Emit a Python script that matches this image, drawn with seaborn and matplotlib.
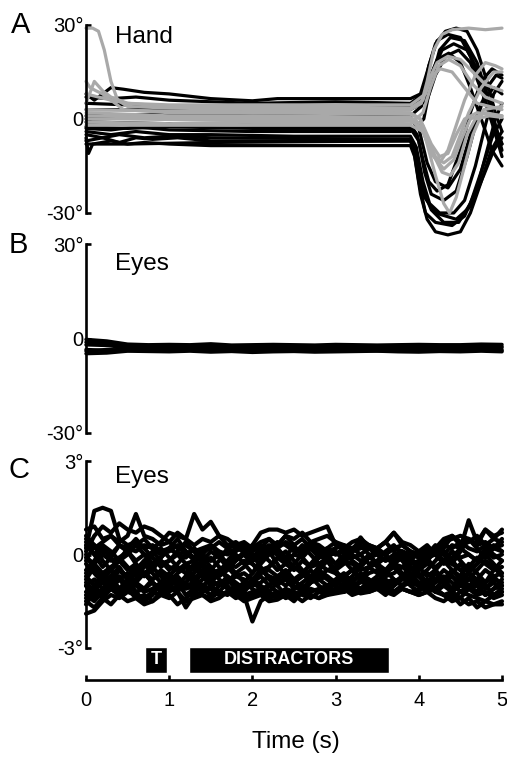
import seaborn as sns
import matplotlib.pyplot as plt
import pandas as pd
import numpy as np

# --------------------------------
# Panel A: hand traces, (time s, angle deg) keypoints
# --------------------------------

hand_black = [
    [(0, -6), (0.03, -11), (0.08, -8), (0.3, -7), (0.5, -8), (0.7, -7.5), (1.0, -8), (1.5, -8.5), (2.0, -8.5),
     (3.0, -8.5), (3.9, -8.5), (3.95, -12), (4.02, -24), (4.1, -32), (4.2, -36), (4.35, -37), (4.5, -36),
     (4.62, -30), (4.75, -20), (4.87, -10), (5.0, -4)],
    [(0, -7), (0.2, -6), (0.4, -7.5), (0.6, -6), (0.8, -6.5), (1.1, -6), (1.5, -7), (2.5, -7), (3.9, -7),
     (3.94, -10), (4.0, -20), (4.08, -30), (4.2, -33), (4.4, -34), (4.55, -31), (4.7, -22), (4.82, -10),
     (4.92, 0), (5.0, 5)],
    [(0, -4), (0.3, -5), (0.6, -4), (1.0, -5), (1.5, -5), (2.5, -5.5), (3.9, -5.5), (3.97, -9), (4.05, -20),
     (4.13, -27), (4.25, -30), (4.42, -30), (4.55, -26), (4.68, -15), (4.8, -2), (4.9, 8), (5.0, 12)],
    [(0, -2.5), (0.5, -3), (1.0, -2.5), (2.0, -3), (3.9, -3), (4.0, -7), (4.07, -17), (4.15, -24), (4.3, -26),
     (4.45, -23), (4.58, -12), (4.7, 0), (4.82, 10), (4.93, 14), (5.0, 13)],
    [(0, -8), (0.5, -8), (1.5, -7.5), (3.9, -7), (3.98, -12), (4.07, -25), (4.2, -30), (4.45, -32),
     (4.62, -28), (4.78, -18), (4.9, -10), (5.0, -6)],
    [(0, -1), (1.0, -1.5), (2.0, -2), (3.9, -2), (3.98, -5), (4.05, -13), (4.12, -20), (4.22, -23),
     (4.35, -21), (4.5, -10), (4.62, 2), (4.75, 12), (4.88, 16), (5.0, 14)],
    [(0, 8), (0.1, 6), (0.2, 8), (0.3, 10), (0.45, 9.5), (0.7, 8.5), (1.0, 8), (1.5, 6.5), (2.0, 5.8),
     (2.3, 6.5), (3.0, 6.5), (3.9, 6.5), (4.02, 8), (4.1, 15), (4.2, 24), (4.32, 28), (4.45, 29), (4.58, 28),
     (4.7, 22), (4.82, 12), (4.92, 2), (5.0, -4)],
    [(0, 7), (0.3, 6.5), (0.6, 7), (1.0, 6), (1.5, 5.5), (2.0, 5), (3.0, 5.5), (3.9, 5), (4.05, 8),
     (4.12, 17), (4.22, 25), (4.35, 27), (4.5, 26), (4.62, 20), (4.75, 10), (4.87, 0), (5.0, -8)],
    [(0, 5), (0.5, 4.5), (1.5, 4), (3.9, 4), (4.08, 7), (4.16, 15), (4.28, 22), (4.42, 24), (4.58, 22),
     (4.72, 15), (4.85, 5), (4.95, -5), (5.0, -10)],
    [(0, 3), (1.0, 3), (2.0, 2.5), (3.9, 3), (4.1, 6), (4.2, 14), (4.32, 20), (4.48, 22), (4.62, 18),
     (4.77, 8), (4.9, -3), (5.0, -12)],
    [(0, 1), (1.0, 1.5), (2.0, 1), (3.9, 1), (4.03, 4), (4.12, 12), (4.22, 19), (4.36, 21), (4.5, 18),
     (4.62, 10), (4.75, 0), (4.88, -10), (5.0, -15)],
    [(0, -3), (0.3, -3.5), (0.6, -2.5), (1.0, -3.5), (2.0, -4), (3.9, -4), (4.06, 0), (4.15, 12), (4.25, 22),
     (4.38, 26), (4.55, 25), (4.7, 18), (4.82, 8), (4.93, -3), (5.0, -8)],
    [(0, 0), (1, 0.5), (2, 0), (3.9, 0), (4.0, -3), (4.1, -14), (4.2, -20), (4.35, -22), (4.5, -16),
     (4.62, -5), (4.75, 5), (4.9, 10), (5.0, 8)],
    [(0, -5), (0.2, -6), (0.4, -5), (0.7, -6), (1.0, -5.5), (1.5, -6), (3.9, -6.5), (3.96, -9), (4.04, -22),
     (4.15, -29), (4.3, -33), (4.48, -33), (4.62, -27), (4.76, -16), (4.88, -6), (5.0, 0)],
]

hand_gray = [
    [(0, 29), (0.08, 29), (0.15, 28), (0.22, 22), (0.3, 12), (0.38, 6), (0.5, 4), (1.0, 3.5), (2.0, 3),
     (3.0, 3), (3.9, 3), (4.03, 5), (4.1, 12), (4.18, 22), (4.28, 27), (4.4, 28.5), (4.6, 29), (4.8, 28.5),
     (5.0, 29)],
    [(0, 12), (0.05, 10), (0.12, 9), (0.2, 8), (0.3, 6), (0.45, 3), (1.0, 2), (2.0, 2), (3.9, 1.5),
     (4.02, 0), (4.1, -6), (4.2, -12), (4.3, -14), (4.4, -12), (4.5, -5), (4.6, 2), (4.75, 10), (4.9, 15),
     (5.0, 15)],
    [(0, 8), (0.15, 7), (0.3, 6), (0.5, 5), (1.0, 4), (2.0, 4), (3.9, 3.5), (4.05, 6), (4.13, 13),
     (4.22, 18), (4.35, 20), (4.5, 19), (4.65, 15), (4.8, 11), (5.0, 9)],
    [(0, 2), (0.5, 1.5), (1.0, 1), (2.0, 1), (3.9, 0.5), (4.05, -2), (4.15, -8), (4.25, -12), (4.35, -11),
     (4.45, -5), (4.55, 0), (4.7, 2), (5.0, 1)],
    [(0, 0), (0.5, 0), (2.0, -0.5), (3.9, -0.5), (4.05, -3), (4.15, -10), (4.28, -17), (4.38, -18),
     (4.48, -14), (4.58, -5), (4.68, 0), (4.85, 1), (5.0, 0.5)],
    [(0, -1), (1.0, -1.5), (2.0, -1), (3.9, -1.5), (4.05, 2), (4.14, 10), (4.24, 17), (4.36, 19), (4.5, 17),
     (4.65, 11), (4.8, 7), (5.0, 5)],
    [(0, 3), (1.0, 2.5), (3.9, 2), (4.02, 0), (4.1, -8), (4.2, -18), (4.3, -27), (4.37, -30), (4.45, -25),
     (4.55, -15), (4.65, -5), (4.78, 3), (5.0, 4)],
    [(0, 1), (1, 0.5), (3.9, 0), (4.05, -4), (4.15, -11), (4.25, -14), (4.35, -10), (4.45, -2), (4.55, 6),
     (4.68, 14), (4.8, 18), (4.92, 17), (5.0, 16)],
    [(0, 5), (0.1, 12), (0.2, 9), (0.3, 7), (0.5, 5), (1.0, 4.5), (3.9, 4.5), (4.08, 8), (4.16, 14),
     (4.26, 16), (4.4, 15), (4.55, 10), (4.7, 5), (5.0, 3)],
    [(0, -2), (1, -2), (3.9, -2), (4.05, -4), (4.18, -12), (4.3, -16), (4.42, -13), (4.52, -6), (4.62, 0),
     (4.8, 2), (5.0, 1)],
]

# --------------------------------
# Panel B: eye traces, every 0.25 s
# --------------------------------

time_b = [0, 0.25, 0.5, 0.75, 1, 1.25, 1.5, 1.75, 2, 2.25, 2.5, 2.75, 3, 3.25, 3.5, 3.75, 4, 4.25, 4.5, 4.75, 5]

eyes_b = [
    [-0.3, -0.8, -1.8, -2.0, -1.9, -2.0, -1.7, -2.1, -2.0, -1.9, -2.0, -2.1, -1.9, -2.0, -2.1, -2.0, -1.9, -2.0, -2.0, -1.8, -1.9],
    [-4.8, -4.6, -4.0, -4.1, -4.2, -4.0, -4.3, -4.1, -4.4, -4.2, -4.1, -4.3, -4.2, -4.1, -4.0, -4.2, -4.3, -4.1, -4.2, -4.0, -4.2],
    [-1.2, -1.5, -2.5, -2.6, -2.4, -2.7, -2.5, -2.6, -2.8, -2.5, -2.6, -2.4, -2.7, -2.6, -2.5, -2.7, -2.6, -2.5, -2.8, -2.6, -2.5],
    [-3.5, -3.8, -3.3, -3.5, -3.4, -3.6, -3.3, -3.5, -3.7, -3.4, -3.5, -3.6, -3.4, -3.3, -3.5, -3.6, -3.4, -3.5, -3.3, -3.5, -3.6],
    [-2.0, -2.2, -3.0, -2.9, -3.1, -3.0, -2.8, -3.2, -3.0, -3.1, -2.9, -3.0, -3.1, -2.9, -3.0, -3.1, -2.9, -3.0, -3.1, -3.0, -2.9],
    [-4.0, -3.5, -3.8, -3.7, -3.9, -3.6, -3.8, -4.0, -3.7, -3.8, -3.9, -3.7, -3.8, -3.6, -3.9, -3.8, -3.7, -3.9, -3.8, -3.7, -3.9],
]

# --------------------------------
# Panel C: eye traces (zoomed), every 0.1 s
# --------------------------------

time_c = np.round(np.arange(51) * 0.1, 1)

eyes_c = [
    [0.2, 1.4, 1.5, 1.4, 0.5, 0.3, 0.4, 0.2, 0.3, 0.1, 0.2, 0.0, 0.1, -0.1, 0.0, -0.2, 0.0, 0.1, -0.1, 0.0,
     -0.2, 0.1, 0.3, 0.2, 0.4, 0.2, 0.1, 0.3, 0.1, 0.2, 0.0, 0.1, -0.1, 0.0, 0.2, 0.0, -0.2, 0.0, 0.1, -0.1,
     0.0, -0.1, 0.1, 0.3, 0.2, 0.4, 0.2, 0.1, 0.3, 0.2, 0.3],
    [0.8, 0.9, 0.5, 0.6, 0.4, 0.6, 1.3, 0.6, 0.5, 0.3, 0.4, 0.2, 0.3, 0.1, 0.2, 0.3, 0.1, 0.0, 0.2, 0.1,
     0.3, 0.7, 0.8, 0.8, 0.7, 0.8, 0.6, 0.7, 0.8, 0.9, 0.3, 0.2, 0.1, 0.2, 0.3, 0.1, 0.0, 0.2, 0.1, 0.0,
     -0.1, 0.0, 0.1, 0.4, 0.5, 0.6, 0.5, 0.3, 0.4, 0.2, 0.1],
    [-0.2, 0.3, 0.1, 0.0, 0.3, 0.2, 0.1, 0.3, 0.2, 0.4, 0.7, 0.6, 0.5, 1.3, 0.8, 1.05, 0.6, 0.3, 0.4, 0.2,
     0.1, 0.3, 0.2, 0.4, 0.3, 0.1, 0.2, 0.4, 0.3, 0.1, 0.0, 0.2, 0.4, 0.5, 0.3, 0.2, 0.4, 0.7, 0.3, 0.1,
     0.0, 0.2, 0.1, 0.0, 0.3, 0.2, 1.1, 0.4, 0.8, 0.5, 0.8],
    [-0.5, -0.3, -0.6, -0.4, -0.2, -0.5, -0.3, -0.6, -0.4, -0.2, -0.4, -0.5, -0.3, -0.2, -0.4, -0.6, -0.5, -0.3, -0.4, -0.2,
     -0.3, -0.5, -0.4, -0.1, -0.3, -0.5, -0.2, -0.4, -0.3, -0.5, -0.4, -0.2, -0.3, -0.5, -0.4, -0.3, -0.1, -0.3, -0.4, -0.2,
     -0.5, -0.3, -0.4, -0.2, -0.3, -0.5, -0.4, -0.1, -0.3, -0.5, -0.4],
    [-1.0, -0.8, -1.1, -0.9, -0.7, -1.0, -0.8, -0.6, -0.9, -1.1, -0.8, -0.7, -1.0, -0.9, -0.6, -0.8, -1.0, -0.9, -0.7, -0.8,
     -1.0, -0.9, -0.7, -0.8, -1.0, -0.8, -0.6, -0.9, -0.8, -0.7, -0.9, -1.0, -0.8, -0.7, -0.9, -0.8, -1.0, -0.9, -0.7, -0.8,
     -0.9, -1.0, -0.8, -0.9, -0.7, -1.0, -0.8, -0.9, -1.1, -0.8, -0.9],
    [-1.9, -1.8, -1.5, -1.3, -1.4, -1.2, -1.3, -1.4, -1.2, -1.3, -1.1, -1.2, -1.7, -1.3, -1.2, -1.1, -1.3, -1.2, -1.4, -1.3,
     -1.2, -1.1, -1.3, -1.2, -1.4, -1.3, -1.2, -1.1, -1.2, -1.3, -1.1, -1.2, -1.0, -1.1, -1.2, -1.1, -1.0, -1.2, -1.1, -1.2,
     -1.3, -1.2, -1.1, -1.3, -1.4, -1.2, -1.3, -1.4, -1.5, -1.3, -1.2],
    [-1.6, -1.2, -1.4, -1.1, -1.3, -1.0, -1.2, -1.1, -0.9, -1.2, -1.0, -1.1, -0.9, -1.2, -1.0, -1.1, -1.3, -1.2, -1.0, -1.3,
     -2.15, -1.5, -1.3, -1.4, -1.2, -1.3, -1.5, -1.3, -1.4, -1.2, -1.1, -1.0, -1.2, -1.1, -0.9, -1.0, -1.1, -1.2, -1.0, -0.9,
     -1.0, -1.2, -1.1, -1.3, -1.2, -1.0, -1.1, -1.3, -1.2, -1.4, -1.3],
    [-1.3, -1.5, -1.2, -1.0, -1.1, -0.9, -1.0, -1.2, -1.1, -0.9, -1.0, -0.8, -1.1, -1.0, -1.2, -1.0, -0.9, -1.1, -1.2, -1.0,
     -0.9, -1.1, -1.0, -1.2, -1.3, -1.1, -1.0, -1.2, -1.1, -1.0, -1.2, -1.1, -1.3, -1.2, -1.0, -1.1, -1.2, -1.3, -1.1, -1.2,
     -1.1, -1.0, -1.2, -1.3, -1.5, -1.4, -1.6, -1.5, -1.7, -1.6, -1.6],
    [0.5, 0.2, 0.4, 0.6, 0.3, 0.1, 0.3, 0.5, 0.2, 0.0, 0.1, 0.3, 0.0, -0.1, 0.1, 0.2, 0.4, 0.2, 0.3, 0.1,
     -0.1, 0.0, 0.2, 0.1, -0.1, 0.3, 0.5, 0.2, 0.0, 0.1, 0.2, 0.3, 0.1, 0.55, 0.2, 0.1, 0.0, 0.2, 0.3, 0.1,
     0.0, 0.1, 0.2, 0.5, 0.6, 0.3, 0.4, 0.6, 0.3, 0.5, 0.4],
    [-0.8, -0.4, -0.7, -0.9, -0.5, -0.7, -0.4, -0.6, -0.8, -0.5, -0.7, -0.4, -0.6, -0.8, -0.5, -0.7, -0.6, -0.4, -0.7, -0.6,
     -0.8, -0.6, -0.5, -0.7, -0.6, -0.4, -0.6, -0.8, -0.7, -0.5, -0.6, -0.7, -0.5, -0.8, -0.6, -0.5, -0.7, -0.6, -0.4, -0.6,
     -0.7, -0.6, -0.8, -0.5, -0.7, -0.9, -0.6, -0.8, -0.5, -0.7, -0.6],
    [-1.5, -1.7, -1.4, -1.6, -1.3, -1.5, -1.4, -1.6, -1.5, -1.3, -1.4, -1.2, -1.5, -1.4, -1.3, -1.5, -1.4, -1.2, -1.3, -1.5,
     -1.4, -1.3, -1.5, -1.45, -1.3, -1.4, -1.2, -1.3, -1.4, -1.3, -1.25, -1.2, -1.1, -1.25, -1.2, -1.1, -1.25, -1.2, -1.1, -1.2,
     -1.3, -1.2, -1.4, -1.5, -1.3, -1.6, -1.4, -1.7, -1.5, -1.6, -1.5],
    [0.1, 0.6, 0.9, 0.7, 1.0, 0.8, 0.7, 0.9, 0.8, 0.6, 0.4, 0.7, 0.5, 0.3, 0.5, 0.4, 0.6, 0.5, 0.3, 0.4,
     0.2, 0.4, 0.5, 0.3, 0.6, 0.5, 0.7, 0.4, 0.5, 0.6, 0.4, 0.3, 0.2, 0.4, 0.3, 0.2, 0.4, 0.7, 0.4, 0.3,
     0.1, 0.2, 0.0, 0.2, 0.6, 0.4, 0.5, 0.3, 0.8, 0.6, 0.7],
    [-0.1, -0.3, 0.0, -0.2, -0.1, 0.1, -0.2, 0.0, -0.1, -0.3, -0.2, 0.0, -0.1, 0.2, -0.1, -0.2, 0.0, -0.3, -0.1, 0.0,
     -0.2, -0.1, 0.1, 0.0, -0.2, 0.0, -0.1, 0.2, -0.1, 0.0, -0.3, -0.1, 0.0, -0.2, -0.1, 0.0, -0.2, -0.1, 0.0, -0.3,
     -0.2, -0.1, 0.0, -0.2, 0.1, -0.1, 0.0, -0.2, 0.1, -0.1, 0.0],
    [-1.2, -1.0, -0.9, -1.1, -1.3, -1.1, -1.4, -1.3, -1.5, -1.2, -1.3, -1.6, -1.4, -1.2, -1.3, -1.4, -1.2, -1.3, -1.1, -1.4,
     -1.3, -1.2, -1.4, -1.3, -1.1, -1.2, -1.3, -1.4, -1.2, -1.1, -0.9, -0.8, -1.0, -0.9, -0.8, -1.0, -0.9, -0.8, -1.0, -0.9,
     -1.0, -0.8, -1.1, -1.0, -1.2, -0.9, -1.1, -1.0, -1.3, -1.1, -1.0],
    [-0.3, -0.6, -0.9, -0.7, -1.1, -0.8, -0.5, -0.2, -0.4, -0.7, -1.0, -1.2, -0.9, -0.6, -0.3, -0.1, -0.4, -0.8, -1.1, -0.9,
     -0.6, -0.2, 0.1, -0.3, -0.7, -1.0, -1.2, -0.9, -0.5, -0.2, -0.5, -0.9, -1.1, -0.8, -0.4, -0.6, -0.9, -1.2, -1.0, -0.7,
     -0.4, -0.1, -0.5, -0.8, -1.1, -0.7, -0.3, -0.6, -0.9, -0.5, -0.2],
    [0.4, 0.0, -0.4, -0.1, 0.3, 0.1, -0.3, -0.7, -0.5, -0.1, 0.2, 0.5, 0.1, -0.2, -0.6, -0.9, -0.6, -0.2, 0.1, 0.3,
     0.0, -0.4, -0.8, -1.0, -0.7, -0.3, 0.0, 0.4, 0.2, -0.2, -0.6, -0.9, -0.7, -0.4, -0.1, 0.2, 0.0, -0.3, -0.6, -0.8,
     -0.5, -0.2, 0.1, -0.2, -0.5, -0.8, -0.6, -0.3, 0.0, 0.3, 0.1],
    [-1.0, -1.4, -1.1, -0.7, -0.4, -0.8, -1.2, -1.5, -1.3, -0.9, -0.6, -0.9, -1.3, -1.1, -0.8, -0.5, -0.8, -1.0, -1.3, -1.1,
     -0.8, -0.5, -0.7, -1.0, -1.3, -1.5, -1.2, -0.9, -0.6, -0.8, -1.0, -0.7, -0.5, -0.8, -1.1, -0.9, -0.6, -0.4, -0.7, -1.0,
     -1.2, -0.9, -0.6, -0.9, -1.2, -1.4, -1.1, -0.8, -1.0, -1.3, -1.1],
    [0.6, 0.3, -0.2, -0.5, -0.2, 0.2, 0.5, 0.2, -0.1, -0.4, -0.2, 0.1, 0.4, 0.1, -0.3, -0.5, -0.2, 0.2, 0.0, -0.3,
     -0.6, -0.3, 0.0, 0.3, 0.6, 0.3, -0.1, -0.4, -0.1, 0.2, 0.4, 0.1, -0.2, -0.4, -0.1, 0.2, 0.4, 0.1, -0.2, -0.5,
     -0.3, 0.0, 0.3, 0.0, -0.3, 0.1, 0.5, 0.2, -0.1, 0.2, 0.5],
    [-1.4, -1.0, -0.6, -0.9, -1.2, -0.9, -0.6, -0.3, -0.6, -0.9, -1.2, -1.0, -0.7, -0.4, -0.7, -1.0, -1.2, -0.9, -0.6, -0.9,
     -1.1, -1.3, -1.0, -0.7, -0.5, -0.8, -1.1, -0.8, -0.5, -0.7, -1.0, -1.2, -0.9, -0.6, -0.8, -1.1, -1.3, -1.0, -0.7, -0.4,
     -0.7, -1.0, -1.2, -1.0, -0.6, -0.3, -0.6, -1.0, -1.3, -1.1, -0.8],
    [0.0, -0.5, -0.8, -0.5, -0.1, -0.4, -0.7, -0.4, 0.0, 0.2, -0.1, -0.4, -0.6, -0.3, 0.0, 0.3, 0.0, -0.3, -0.6, -0.4,
     -0.1, 0.2, 0.5, 0.2, -0.1, -0.4, -0.6, -0.3, 0.0, -0.2, -0.5, -0.3, 0.1, 0.3, 0.0, -0.3, -0.5, -0.2, 0.1, -0.1,
     -0.4, -0.7, -0.5, -0.2, 0.1, -0.2, -0.5, -0.3, 0.0, -0.3, -0.6],
    [-0.6, -0.2, 0.2, -0.1, -0.5, -0.8, -0.5, -0.2, 0.1, -0.2, -0.5, -0.3, 0.0, 0.2, -0.1, -0.4, -0.7, -0.5, -0.2, 0.0,
     -0.3, -0.6, -0.4, -0.1, 0.1, -0.2, -0.5, -0.7, -0.4, -0.1, 0.1, -0.2, -0.5, -0.3, 0.0, -0.4, -0.6, -0.3, -0.1, -0.4,
     -0.7, -0.5, -0.2, 0.1, -0.2, -0.5, -0.8, -0.5, -0.2, -0.4, -0.7],
    [-0.9, -1.2, -0.8, -0.5, -0.8, -1.1, -0.9, -0.6, -0.9, -1.2, -0.9, -0.6, -0.4, -0.7, -1.0, -0.8, -0.5, -0.7, -1.0, -1.2,
     -0.9, -0.7, -1.0, -0.8, -0.6, -0.9, -0.7, -0.5, -0.8, -1.0, -0.8, -0.6, -0.9, -1.1, -0.9, -0.7, -0.5, -0.8, -1.0, -0.8,
     -0.6, -0.9, -1.1, -0.8, -0.5, -0.7, -1.0, -1.2, -0.9, -0.7, -1.0],
    [0.3, 0.0, 0.3, 0.1, -0.2, 0.0, 0.3, 0.0, -0.3, -0.1, 0.2, 0.0, -0.3, -0.5, -0.2, 0.1, -0.1, -0.4, -0.2, 0.1,
     0.3, 0.0, -0.2, -0.5, -0.3, 0.0, 0.3, 0.0, -0.3, -0.1, -0.3, 0.0, 0.2, 0.0, -0.3, -0.2, 0.1, 0.3, 0.0, -0.2,
     0.1, 0.3, 0.0, -0.3, -0.1, 0.2, 0.0, -0.2, 0.2, 0.0, -0.2],
    [-0.7, -1.0, -1.3, -1.1, -0.8, -0.6, -0.9, -1.1, -0.8, -0.6, -0.8, -1.0, -0.7, -0.9, -1.1, -1.3, -1.0, -0.7, -0.9, -1.1,
     -0.8, -1.0, -1.2, -0.9, -0.8, -1.1, -0.9, -0.7, -1.0, -1.2, -0.9, -0.7, -0.9, -0.6, -0.9, -1.1, -0.8, -1.0, -0.8, -0.6,
     -0.9, -1.1, -0.9, -0.7, -0.9, -1.2, -1.0, -0.8, -1.1, -0.9, -1.2],
]

# --------------------------------
# Stimulus timeline
# --------------------------------

event_labels = ["T", "DISTRACTORS"]
event_start = [0.71, 1.24]
event_end = [0.97, 3.64]

time_ticks = [0, 1, 2, 3, 4, 5]

GRAY = "#a9a9a9"
W, H = 507, 757
TICK_SIZE = 14.5


def keypoint_frame(traces):
    rows = []
    for k, tr in enumerate(traces):
        for t, v in tr:
            rows.append((k, t, v))
    return pd.DataFrame(rows, columns=["trace", "t", "deg"])


def sampled_frame(times, traces):
    rows = []
    for k, vals in enumerate(traces):
        for t, v in zip(times, vals):
            rows.append((k, t, v))
    return pd.DataFrame(rows, columns=["trace", "t", "deg"])


def add_ax(fig, top, bottom):
    ax = fig.add_axes([86 / W, 1 - bottom / H, 416 / W, (bottom - top) / H])
    ax.set_facecolor("none")
    return ax


def style_trace_axis(ax, lim, ylim, labels):
    ax.set_xlim(0, 5)
    ax.set_ylim(*ylim)
    for s in ["top", "right", "bottom"]:
        ax.spines[s].set_visible(False)
    ax.spines["left"].set_linewidth(1.9)
    ax.spines["left"].set_color("black")
    ax.spines["left"].set_bounds(-lim, lim)
    ax.set_yticks([lim, 0, -lim])
    ax.set_yticklabels(labels)
    ax.tick_params(axis="y", left=True, direction="in", length=3.6, width=1.9, pad=2,
                   labelsize=TICK_SIZE, colors="black")
    ax.set_xticks([])
    ax.set_xlabel("")
    ax.set_ylabel("")


def draw(ax, df, color, lw=2.0):
    sns.lineplot(data=df, x="t", y="deg", units="trace", estimator=None, sort=False,
                 color=color, lw=lw, ax=ax, legend=False, clip_on=False)


def main():
    sns.set_theme(style="white")
    plt.rcParams["font.family"] = ["Liberation Sans", "DejaVu Sans"]
    plt.rcParams["text.color"] = "black"
    plt.rcParams["axes.edgecolor"] = "black"

    fig = plt.figure(figsize=(W / 100, H / 100), dpi=100)

    # Panel A
    ax_a = add_ax(fig, 18.73, 244.3)
    draw(ax_a, keypoint_frame(hand_black), "black", lw=2.3)
    draw(ax_a, keypoint_frame(hand_gray), GRAY, lw=2.3)
    style_trace_axis(ax_a, 30, (-40, 32), ["30°", "0", "-30°"])

    # Panel B
    ax_b = add_ax(fig, 240.85, 436.15)
    draw(ax_b, sampled_frame(time_b, eyes_b), "black", lw=2.5)
    style_trace_axis(ax_b, 30, (-31, 31), ["30°", "0", "-30°"])

    # Panel C
    ax_c = add_ax(fig, 457.9, 651.1)
    draw(ax_c, sampled_frame(time_c, eyes_c), "black", lw=3.0)
    style_trace_axis(ax_c, 3, (-3.1, 3.1), ["3°", "0", "-3°"])

    # Timeline with stimulus boxes
    ax_t = add_ax(fig, 640, 680)
    ax_t.set_xlim(0, 5)
    ax_t.set_ylim(0, 1)
    widths = [e - s for s, e in zip(event_start, event_end)]
    ax_t.barh(y=0.5, width=widths, left=event_start, height=0.65, color="black")
    for lab, s, e in zip(event_labels, event_start, event_end):
        ax_t.text((s + e) / 2, 0.5, lab, color="white", fontsize=13, fontweight="bold",
                  ha="center", va="center")
    for s in ["top", "right", "left"]:
        ax_t.spines[s].set_visible(False)
    ax_t.spines["bottom"].set_linewidth(1.9)
    ax_t.spines["bottom"].set_color("black")
    ax_t.spines["bottom"].set_bounds(0, 5)
    ax_t.set_xticks(time_ticks)
    ax_t.set_xticklabels([str(t) for t in time_ticks])
    ax_t.set_yticks([])
    ax_t.tick_params(axis="x", bottom=True, direction="in", length=3.6, width=1.9, pad=8,
                     labelsize=TICK_SIZE, colors="black")

    # Text labels
    fig.text(11 / W, 1 - 33 / H, "A", fontsize=21, va="baseline")
    fig.text(9 / W, 1 - 253 / H, "B", fontsize=21, va="baseline")
    fig.text(9 / W, 1 - 478 / H, "C", fontsize=21, va="baseline")
    fig.text(115 / W, 1 - 43 / H, "Hand", fontsize=17.5, va="baseline")
    fig.text(115 / W, 1 - 270 / H, "Eyes", fontsize=17.5, va="baseline")
    fig.text(115 / W, 1 - 483 / H, "Eyes", fontsize=17.5, va="baseline")
    fig.text(296 / W, 1 - 748 / H, "Time (s)", fontsize=17.5, ha="center", va="baseline")

    fig.savefig("out.png", dpi=100)


if __name__ == "__main__":
    main()
